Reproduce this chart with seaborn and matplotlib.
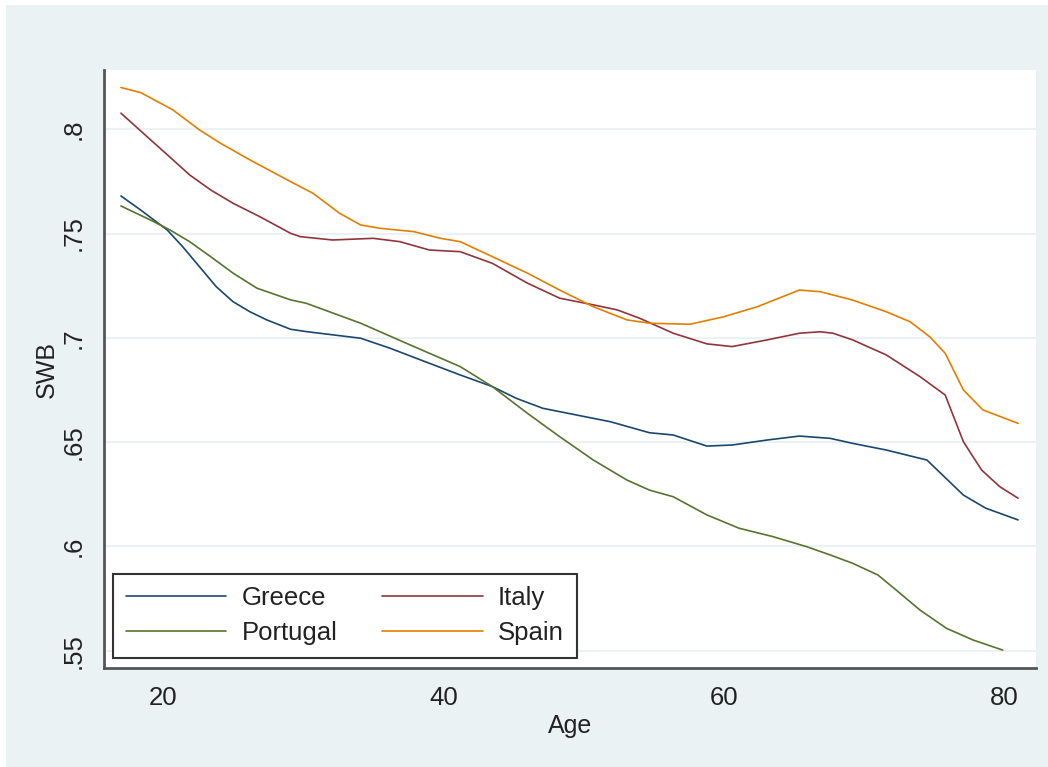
import matplotlib
matplotlib.use("Agg")
import matplotlib.pyplot as plt
from matplotlib.patches import Rectangle
import pandas as pd
import seaborn as sns

# Smoothed subjective well-being (SWB) by age, per country
greece_age = [17, 18.4, 20.3, 21.4, 22.6, 23.8, 25.0, 26.2, 27.4, 29.1, 30.2, 34.1, 36.2,
              39.0, 41.2, 43.5, 45.2, 47.1, 49.5, 51.9, 54.7, 56.4, 58.8, 60.6, 63.1,
              65.4, 67.6, 69.2, 71.6, 74.5, 77.1, 78.7, 81]
greece_swb = [.7680, .7613, .7517, .7437, .7341, .7245, .7173, .7125, .7086, .7041, .7030,
              .6998, .6950, .6878, .6822, .6766, .6710, .6662, .6630, .6598, .6545, .6534,
              .6481, .6486, .6510, .6529, .6518, .6494, .6462, .6414, .6246, .6183, .6127]

italy_age = [17, 19.1, 20.3, 21.9, 23.4, 25.0, 26.9, 29.1, 29.8, 32.1, 35.0, 36.9, 39.0,
             41.2, 43.5, 46.0, 48.3, 50.7, 52.4, 54.0, 56.4, 58.8, 60.6, 63.1, 65.4, 66.9,
             67.8, 69.2, 71.6, 74.0, 75.8, 77.1, 78.4, 79.7, 81]
italy_swb = [.8077, .7950, .7878, .7781, .7709, .7645, .7581, .7501, .7485, .7469, .7477,
             .7461, .7421, .7413, .7357, .7262, .7190, .7158, .7134, .7094, .7022, .6971,
             .6958, .6990, .7022, .7029, .7022, .6990, .6918, .6814, .6726, .6502, .6366,
             .6286, .6231]

portugal_age = [17, 19.1, 20.5, 21.9, 23.4, 25.0, 26.7, 29.1, 30.2, 34.1, 37.9, 41.2, 43.5,
                46.0, 48.3, 50.7, 53.1, 54.7, 56.4, 58.8, 61.1, 63.5, 65.9, 67.6, 69.2,
                71.0, 72.3, 74.0, 75.9, 77.8, 79.9]
portugal_swb = [.7632, .7565, .7517, .7461, .7389, .7310, .7238, .7182, .7166, .7070, .6958,
                .6862, .6766, .6638, .6526, .6414, .6318, .6270, .6238, .6151, .6087, .6047,
                .5999, .5959, .5919, .5863, .5791, .5695, .5607, .5551, .5503]

spain_age = [17, 18.4, 20.7, 22.6, 24.1, 26.2, 29.1, 30.7, 32.6, 34.1, 35.5, 37.9, 39.8,
             41.2, 43.5, 46.0, 48.3, 50.7, 53.1, 54.7, 57.6, 60.0, 62.4, 65.4, 66.9, 69.2,
             71.6, 73.3, 74.7, 75.8, 77.1, 78.5, 81]
spain_swb = [.8200, .8176, .8093, .7997, .7933, .7853, .7749, .7693, .7597, .7541, .7525,
             .7509, .7477, .7461, .7389, .7310, .7229, .7149, .7086, .7070, .7065, .7101,
             .7149, .7229, .7221, .7181, .7125, .7077, .7005, .6926, .6750, .6654, .6590]

countries = ["Greece", "Italy", "Portugal", "Spain"]
colors = ["#1a476f", "#90353b", "#55752f", "#e37e00"]

x_ticks = [20, 40, 60, 80]
y_ticks = [.55, .6, .65, .7, .75, .8]
y_tick_labels = [".55", ".6", ".65", ".7", ".75", ".8"]

frames = []
for name, ages, vals in [("Greece", greece_age, greece_swb),
                         ("Italy", italy_age, italy_swb),
                         ("Portugal", portugal_age, portugal_swb),
                         ("Spain", spain_age, spain_swb)]:
    frames.append(pd.DataFrame({"Age": ages, "SWB": vals, "Country": name}))
df = pd.concat(frames, ignore_index=True)

sns.set_theme(style="white")
plt.rcParams["font.family"] = ["Liberation Sans", "DejaVu Sans"]

W, H = 1048, 767
fig = plt.figure(figsize=(W / 100, H / 100), dpi=100, facecolor="white")
bg = "#eaf2f3"
fig.patches.append(Rectangle((6 / W, 0), 1 - 6 / W, 1 - 5 / H, transform=fig.transFigure,
                             facecolor=bg, edgecolor="none", zorder=-10))

ax = fig.add_axes([104 / W, 1 - 668 / H, 932 / W, 598 / H])
ax.set_facecolor("white")

sns.lineplot(data=df, x="Age", y="SWB", hue="Country", hue_order=countries,
             palette=dict(zip(countries, colors)), estimator=None, sort=True,
             linewidth=1.2, ax=ax, legend=False)

ax.set_xlim(15.79, 82.28)
ax.set_ylim(0.5417, 0.8284)

ax.set_xticks(x_ticks)
ax.set_yticks(y_ticks)
ax.set_yticklabels(y_tick_labels, rotation=90, va="center")
ax.yaxis.grid(True, color=bg, linewidth=1.5)
ax.xaxis.grid(False)
ax.set_axisbelow(True)

for side in ["top", "right"]:
    ax.spines[side].set_visible(False)
for side in ["left", "bottom"]:
    ax.spines[side].set_color("#555555")
    ax.spines[side].set_linewidth(2.0)

ax.tick_params(axis="both", which="major", length=8, width=1.3, color="#333333",
               labelsize=18.5, labelcolor="#222222", direction="out")
ax.tick_params(axis="y", pad=5)
ax.tick_params(axis="x", pad=5)

ax.set_xlabel("Age", fontsize=18, color="#222222", labelpad=3)
ax.set_ylabel("SWB", fontsize=18, color="#222222", labelpad=2)

# legend: two columns, Greece/Italy on the first row, Portugal/Spain on the second
lines = {name: ax.lines[i] for i, name in enumerate(countries)}
order = ["Greece", "Portugal", "Italy", "Spain"]
leg = ax.legend([lines[n] for n in order], order, ncol=2, loc="lower left",
                bbox_to_anchor=(0.0097, 0.0167), borderaxespad=0, fontsize=18.5,
                handlelength=3.9, handletextpad=0.6, columnspacing=1.75,
                labelspacing=0.42, borderpad=0.5, fancybox=False, framealpha=1,
                edgecolor="#333333")
leg.get_frame().set_linewidth(1.5)
for t in leg.get_texts():
    t.set_color("#222222")

fig.savefig("out.png", dpi=100, facecolor=fig.get_facecolor())
